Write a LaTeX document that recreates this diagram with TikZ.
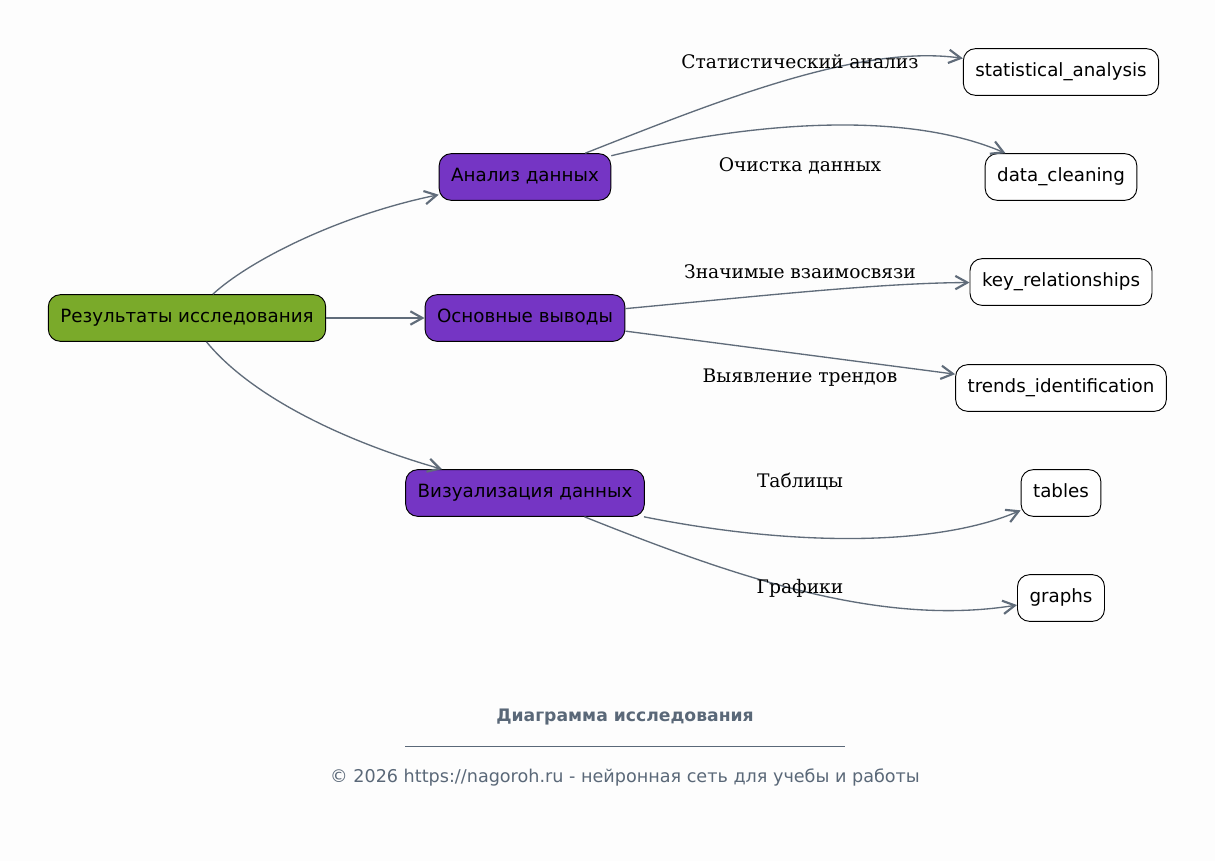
\documentclass[tikz,border=0pt]{standalone}
\usepackage{fontspec}
\usepackage{tikz}
\usepackage{xcolor}
\usetikzlibrary{arrows.meta, positioning}
\setmainfont{DejaVu Serif}
\newfontfamily\boxfont{DejaVu Sans}
\definecolor{rootgreen}{RGB}{122,170,42}
\definecolor{branchpurple}{RGB}{117,53,196}
\definecolor{linkgray}{RGB}{96,108,122}
\definecolor{footgray}{RGB}{90,104,120}
\definecolor{pagebg}{RGB}{253,253,253}
\tikzset{
  box/.style={draw=black, line width=0.7pt, rounded corners=9pt, minimum height=35pt, inner xsep=9pt, text height=0.9em, text depth=0.25em, font=\boxfont\fontsize{13.7}{16}\selectfont},
  rootbox/.style={box, fill=rootgreen},
  branchbox/.style={box, fill=branchpurple},
  leafbox/.style={box, fill=white},
  lbl/.style={font=\fontsize{14}{16}\selectfont},
  link/.style={draw=linkgray, line width=1pt, -{Straight Barb[length=9pt,width=10pt,line width=1.6pt]}}
}

\begin{document}
\begin{tikzpicture}[x=0.75pt, y=-0.75pt]
                        \fill[pagebg] (0, 0) rectangle (1215, 861);
                        \useasboundingbox (0, 0) rectangle (1215, 861);
                        \node[rootbox] (r) at (187, 318) {Результаты исследования};
                        \node[branchbox] (a1) at (525, 177) {Анализ данных};
                        \node[branchbox] (a2) at (525, 318) {Основные выводы};
                        \node[branchbox] (a3) at (525, 493) {Визуализация данных};
                        \node[leafbox] (s) at (1061, 72) {statistical\_analysis};
                        \node[leafbox] (d) at (1061, 177) {data\_cleaning};
                        \node[leafbox] (k) at (1061, 282) {key\_relationships};
                        \node[leafbox] (t) at (1061, 388) {trends\_identification};
                        \node[leafbox] (tb) at (1061, 493) {tables};
                        \node[leafbox] (g) at (1061, 598) {graphs};
                        \draw[link] (r) .. controls (250, 260) and (340, 215) .. (a1);
                        \draw[link] (r) -- (a2);
                        \draw[link] (r) .. controls (250, 395) and (340, 440) .. (a3);
                        \draw[link] (a1) .. controls (720, 100) and (860, 44) .. (s);
                        \draw[link] (a1) .. controls (740, 124) and (900, 108) .. (d);
                        \draw[link] (a2) .. controls (760, 296) and (880, 283) .. (k);
                        \draw[link] (a2) -- (t);
                        \draw[link] (a3) .. controls (800, 548) and (940, 545) .. (tb);
                        \draw[link] (a3) .. controls (735, 577) and (880, 627) .. (g);
                        \node[lbl] (l1) at (800, 62) {Статистический анализ};
                        \node[lbl] (l2) at (800, 166) {Очистка данных};
                        \node[lbl] (l3) at (800, 272) {Значимые взаимосвязи};
                        \node[lbl] (l4) at (800, 378) {Выявление трендов};
                        \node[lbl] (l5) at (800, 482) {Таблицы};
                        \node[lbl] (l6) at (800, 588) {Графики};
                        \node[font=\boxfont\bfseries\fontsize{12.9}{15}\selectfont, text=footgray] (title) at (625, 717) {Диаграмма исследования};
                        \draw[footgray, line width=0.6pt] (405, 746) -- (845, 746);
                        \node[font=\boxfont\fontsize{13.2}{15}\selectfont, text=footgray] (copy) at (625, 777) {© 2026 https://nagoroh.ru - нейронная сеть для учебы и работы};
                    \end{tikzpicture}
\end{document}
